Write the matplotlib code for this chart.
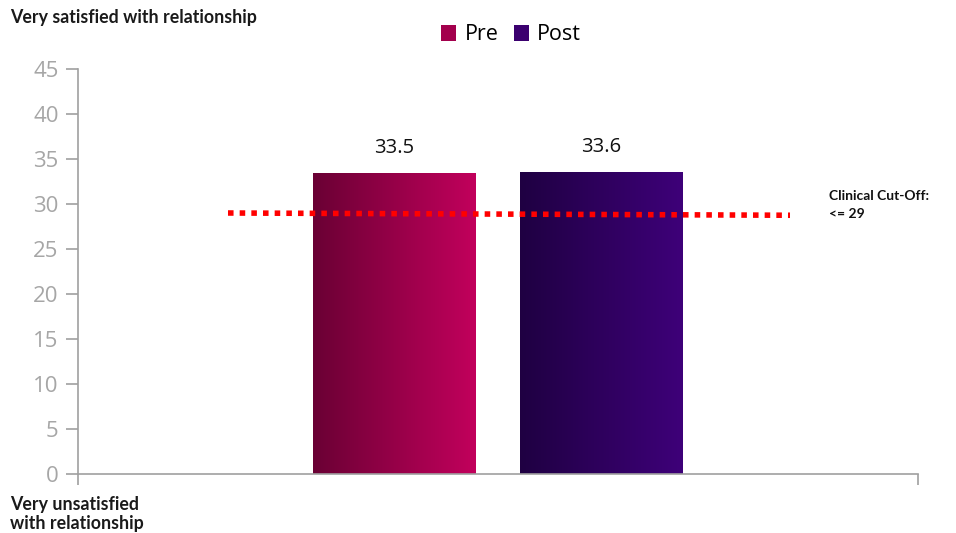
import numpy as np
import matplotlib.pyplot as plt
from matplotlib.colors import LinearSegmentedColormap
from matplotlib.patches import Rectangle

series = ["Pre", "Post"]
values = [33.5, 33.6]
value_labels = ["33.5", "33.6"]
yticks = [0, 5, 10, 15, 20, 25, 30, 35, 40, 45]
cutoff_start = 29.0
cutoff_end = 28.75
cutoff_text = "Clinical Cut-Off:\n<= 29"
top_label = "Very satisfied with relationship"
bottom_label = "Very unsatisfied\nwith relationship"

grad = [("#6a0034", "#c2005c"), ("#1f0042", "#3e0079")]
legend_colors = ["#a3004d", "#3b006f"]

fig = plt.figure(figsize=(9.56, 5.33), dpi=100)
fig.patch.set_facecolor("white")
W, H = 956, 533
ax = fig.add_axes([78 / W, 1 - 474 / H, (918 - 78) / W, (474 - 69) / H])
ax.set_xlim(0, 1)
ax.set_ylim(0, 45)

centers = [0.376, 0.623]
width = 0.193
for i, (c, v) in enumerate(zip(centers, values)):
    cmap = LinearSegmentedColormap.from_list(f"g{i}", list(grad[i]))
    x0 = c - width / 2
    img = ax.imshow(np.linspace(0, 1, 256).reshape(1, -1), cmap=cmap, aspect="auto",
                    extent=[x0, x0 + width, 0, v], zorder=2)
    rect = Rectangle((x0, 0), width, v, facecolor="none", edgecolor="none", transform=ax.transData)
    ax.add_patch(rect)
    img.set_clip_path(rect)
    ax.text(c, v + 1.6, value_labels[i], ha="center", va="bottom", fontsize=14.5,
            color="#111111", family="Open Sans")

ax.set_xlim(0, 1)
ax.set_ylim(0, 45)

xs = [(228 - 78) / 840, (790 - 78) / 840]
ax.plot(xs, [cutoff_start, cutoff_end], color="#ff0000", linewidth=4,
        linestyle=(0, (1, 1.1)), zorder=3)

ax.set_yticks(yticks)
ax.set_yticklabels([str(t) for t in yticks], fontsize=16, color="#a6a6a6", family="Open Sans")
ax.tick_params(axis="y", length=9, width=1.2, color="#a0a0a0", pad=5)
ax.set_xticks([0, 1])
ax.set_xticklabels(["", ""])
ax.tick_params(axis="x", length=8, width=1.2, color="#a0a0a0", direction="out")
for s in ["top", "right"]:
    ax.spines[s].set_visible(False)
for s in ["left", "bottom"]:
    ax.spines[s].set_color("#a0a0a0")
    ax.spines[s].set_linewidth(1.2)

fig.text(10 / W, 1 - 18 / H, top_label, fontsize=12.8, fontweight="bold", family="Lato",
         va="center", ha="left", color="#1a1a1a")
fig.text(10 / W, 1 - 514 / H, bottom_label, fontsize=12.8, fontweight="bold", family="Lato",
         va="center", ha="left", color="#1a1a1a", linespacing=1.2)
fig.text(829 / W, 1 - 205 / H, cutoff_text, fontsize=10, fontweight="bold", family="Lato",
         va="center", ha="left", color="#111111", linespacing=1.5)

handles = [Rectangle((0, 0), 1, 1, facecolor=c) for c in legend_colors]
fig.legend(handles, series, loc="center", bbox_to_anchor=(511 / W, 1 - 35 / H), ncol=2,
           frameon=False, prop={"family": "Open Sans", "size": 15.5}, handlelength=0.7,
           handleheight=0.7, handletextpad=0.4, columnspacing=0.7)

fig.savefig("out.png", dpi=100, facecolor="white")
